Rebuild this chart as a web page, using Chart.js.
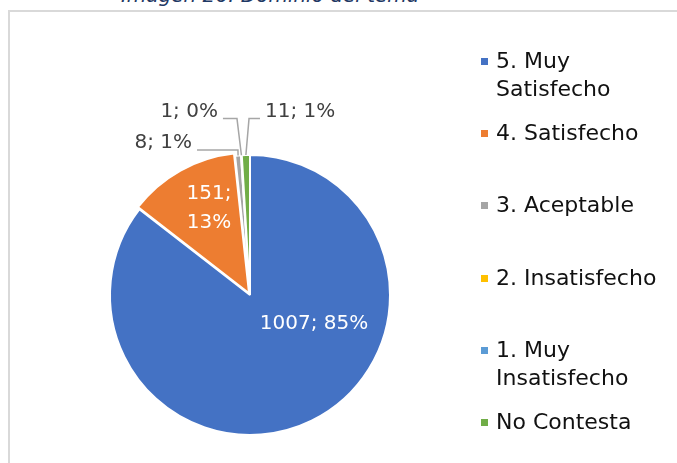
<!DOCTYPE html>
<html lang="es">
<head>
  <meta charset="UTF-8">
  <title>Dominio del tema</title>
  <script src="https://cdn.jsdelivr.net/npm/chart.js"></script>
  <style>
    html, body {
      margin: 0;
      padding: 0;
      width: 677px;
      height: 463px;
      overflow: hidden;
      background: #fff;
      font-family: 'DejaVu Sans', sans-serif;
    }
    .title {
      position: absolute;
      left: 0;
      width: 540px;
      top: -15px;
      text-align: center;
      font-style: italic;
      font-size: 20px;
      line-height: 20px;
      color: #1f3864;
      white-space: nowrap;
    }
    .frame {
      position: absolute;
      left: 8px;
      top: 10px;
      width: 700px;
      height: 480px;
      border: 2px solid #d9d9d9;
    }
    #wrap {
      position: absolute;
      left: 0;
      top: 0;
      width: 677px;
      height: 463px;
    }
    .legend-item {
      position: absolute;
      left: 496px;
      font-size: 22px;
      line-height: 28px;
      color: #111;
    }
    .legend-item i {
      position: absolute;
      left: -15px;
      top: 11px;
      width: 7px;
      height: 7px;
    }
  </style>
</head>
<body>

  <div class="title">Imagen 26. Dominio del tema</div>
  <div class="frame"></div>
  <div id="wrap"><canvas id="pieChart" width="677" height="463"></canvas></div>
  <div id="legend"></div>

  <script>
    const categories = ['5. Muy Satisfecho', '4. Satisfecho', '3. Aceptable', '2. Insatisfecho', '1. Muy Insatisfecho', 'No Contesta'];
    const legendLines = [['5. Muy', 'Satisfecho'], ['4. Satisfecho'], ['3. Aceptable'], ['2. Insatisfecho'], ['1. Muy', 'Insatisfecho'], ['No Contesta']];
    const counts = [1007, 151, 8, 1, 0, 11];
    const colors = ['#4472c4', '#ed7d31', '#a5a5a5', '#ffc000', '#5b9bd5', '#70ad47'];

    // legend rows (top of first line, px)
    const legendTops = [47, 119, 191, 264, 336, 408];

    // label placement relative to pie centre, in radius units
    const labelPlaces = [
      { dx: 0.457, dy: 0.207, color: '#fff', align: 'center' },
      { dx: -0.293, dy: -0.62, color: '#fff', align: 'center', split: true },
      { dx: -0.414, dy: -1.086, color: '#404040', align: 'right', ex: -0.086 },
      { dx: -0.229, dy: -1.31, color: '#404040', align: 'right', ex: -0.093 },
      null,
      { dx: 0.107, dy: -1.31, color: '#404040', align: 'left', ex: -0.007 }
    ];

    const legend = document.getElementById('legend');
    legendLines.forEach((lines, i) => {
      const d = document.createElement('div');
      d.className = 'legend-item';
      d.style.top = legendTops[i] + 'px';
      d.innerHTML = '<i style="background:' + colors[i] + '"></i>' + lines.join('<br>');
      legend.appendChild(d);
    });

    const total = counts.reduce((a, b) => a + b, 0);

    const pieLabels = {
      id: 'pieLabels',
      afterDatasetsDraw(chart) {
        const ctx = chart.ctx;
        const meta = chart.getDatasetMeta(0);
        ctx.save();
        ctx.font = '20px "DejaVu Sans", sans-serif';
        ctx.textBaseline = 'middle';
        meta.data.forEach((arc, i) => {
          const p = labelPlaces[i];
          if (!p) return;
          const { x, y, startAngle, endAngle, outerRadius } = arc.getProps(['x', 'y', 'startAngle', 'endAngle', 'outerRadius'], true);
          const r = outerRadius;
          const pct = Math.round(counts[i] / total * 100);
          const tx = x + p.dx * r;
          const ty = y + p.dy * r;
          ctx.fillStyle = p.color;
          ctx.textAlign = p.align;
          if (p.split) {
            ctx.fillText(counts[i] + ';', tx, ty - 14);
            ctx.fillText(pct + '%', tx, ty + 15);
          } else {
            ctx.fillText(counts[i] + '; ' + pct + '%', tx, ty);
          }
          if (p.ex !== undefined) {
            const mid = (startAngle + endAngle) / 2;
            const ax = x + Math.cos(mid) * r;
            const ay = y + Math.sin(mid) * r;
            const ly = ty + 7;
            const sx = p.align === 'right' ? tx + 5 : tx - 5;
            const exx = x + p.ex * r;
            ctx.strokeStyle = '#a6a6a6';
            ctx.lineWidth = 1.5;
            ctx.beginPath();
            ctx.moveTo(sx, ly);
            ctx.lineTo(exx, ly);
            ctx.lineTo(ax, ay);
            ctx.stroke();
          }
        });
        ctx.restore();
      }
    };

    new Chart(document.getElementById('pieChart').getContext('2d'), {
      type: 'pie',
      data: {
        labels: categories,
        datasets: [{
          data: counts,
          backgroundColor: colors,
          borderColor: '#fff',
          borderWidth: 2,
          offset: [0, 8, 0, 0, 0, 0],
          hoverOffset: 0
        }]
      },
      options: {
        responsive: false,
        animation: false,
        layout: { padding: { left: 105, top: 150, right: 282, bottom: 23 } },
        plugins: {
          legend: { display: false },
          tooltip: { enabled: false }
        }
      },
      plugins: [pieLabels]
    });
  </script>

</body>
</html>
